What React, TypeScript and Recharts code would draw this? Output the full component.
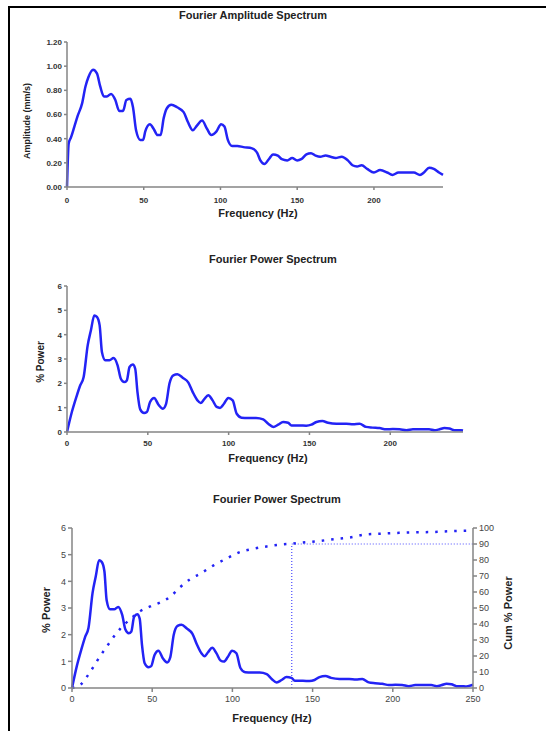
import React from 'react';
import { LineChart, Line, XAxis, YAxis, ReferenceLine } from 'recharts';

// amplitude spectrum (mm/s)
const AMP_FREQ = [0, 1.1, 2.6, 4.8, 7, 9.8, 12, 14, 17, 19.5, 21.7, 24, 26, 28.7, 31.5, 34, 36.5, 38.7, 41.3, 43, 45, 47.8, 49.6, 51, 54, 56.5, 59, 61, 63, 65, 68, 71.7, 76, 78.7, 82, 84.8, 88, 91.3, 94, 97.4, 100.4, 102.6, 104.8, 107.6, 111, 115, 120.6, 124, 126, 128.7, 131.5, 134.3, 137.4, 140, 143.5, 146.7, 150, 152.6, 156, 159, 162, 165, 168.5, 171.7, 175, 179, 183, 186, 189, 192, 195.6, 200, 204, 208.7, 212, 216, 220.6, 226, 230, 232.6, 236, 239, 242.4, 245];
const AMP_VALUES = [0, 0.36, 0.41, 0.5, 0.59, 0.69, 0.83, 0.91, 0.97, 0.94, 0.83, 0.75, 0.75, 0.77, 0.72, 0.63, 0.63, 0.72, 0.73, 0.66, 0.47, 0.39, 0.39, 0.46, 0.52, 0.48, 0.43, 0.43, 0.57, 0.65, 0.68, 0.66, 0.62, 0.54, 0.47, 0.51, 0.55, 0.48, 0.43, 0.46, 0.52, 0.5, 0.39, 0.34, 0.34, 0.33, 0.32, 0.28, 0.22, 0.19, 0.23, 0.27, 0.26, 0.23, 0.22, 0.24, 0.22, 0.23, 0.27, 0.28, 0.26, 0.25, 0.26, 0.25, 0.24, 0.25, 0.22, 0.18, 0.17, 0.18, 0.15, 0.12, 0.14, 0.12, 0.1, 0.12, 0.12, 0.12, 0.1, 0.12, 0.16, 0.15, 0.12, 0.1];

// % power
const POWER_FREQ = [0, 3, 5.8, 8.2, 10.3, 12.8, 14.8, 16.9, 18.5, 20.2, 21.6, 23.7, 26.3, 28.8, 31.3, 33.3, 35.4, 37, 38.7, 40.7, 42.2, 43.6, 45.3, 47.7, 49.4, 51.4, 53.9, 56.6, 59.3, 61.3, 63.4, 65.8, 68.3, 71.6, 75.1, 77.8, 80.7, 82.7, 84.8, 87.4, 90.1, 92.6, 94.7, 97.1, 99.8, 102.5, 105, 108, 112, 117, 121.4, 124.5, 127.6, 130.7, 133.7, 136.8, 138.9, 144, 148, 151.2, 154.3, 158, 161.5, 166.7, 172.8, 177, 181, 185, 189, 193.4, 197.5, 201.6, 205.8, 210, 214, 220, 224, 227.4, 230.5, 233.5, 236.6, 239.7, 243.8, 245, 247.5, 250];
const POWER_VALUES = [0, 0.82, 1.44, 1.92, 2.26, 3.56, 4.18, 4.79, 4.73, 4.38, 3.29, 2.95, 2.95, 3.04, 2.74, 2.19, 2.05, 2.12, 2.67, 2.77, 2.6, 1.64, 0.93, 0.78, 0.82, 1.23, 1.4, 1.12, 0.96, 1.16, 1.99, 2.33, 2.37, 2.23, 2.03, 1.64, 1.3, 1.19, 1.34, 1.51, 1.3, 1.03, 0.99, 1.16, 1.4, 1.3, 0.75, 0.59, 0.58, 0.58, 0.52, 0.34, 0.21, 0.3, 0.41, 0.38, 0.27, 0.27, 0.26, 0.3, 0.41, 0.45, 0.38, 0.34, 0.34, 0.32, 0.34, 0.21, 0.18, 0.16, 0.11, 0.12, 0.11, 0.07, 0.11, 0.11, 0.11, 0.07, 0.11, 0.16, 0.14, 0.07, 0.07, 0.06, 0.08, 0.12];

// cumulative % power
const CUM_FREQ = [0, 5.2, 9.3, 13.5, 17.6, 21.8, 26, 30, 36.3, 42.5, 48.8, 55, 61.2, 67.4, 73.6, 80, 88, 96.5, 104.8, 113, 121.4, 129.7, 137, 144, 152.5, 163, 173, 183.6, 194, 204, 214.7, 225, 235.5, 250];
const CUM_VALUES = [0, 2, 7, 13.5, 20, 26, 32, 37, 43, 48, 51, 53.5, 57, 63, 68, 71.5, 76.5, 81, 85, 87, 88.5, 89.6, 90.2, 91, 91.7, 93, 94, 96, 96.5, 97, 97.3, 97.5, 98, 98.3];

const CUT_FREQ = 137; // frequency where 90% power is reached
const CUT_PCT = 90;

const AMP_TICKS = [0, 0.2, 0.4, 0.6, 0.8, 1.0, 1.2];
const POWER_TICKS = [0, 1, 2, 3, 4, 5, 6];
const CUM_TICKS = [0, 10, 20, 30, 40, 50, 60, 70, 80, 90, 100];
const FREQ_TICKS_SHORT = [0, 50, 100, 150, 200];
const FREQ_TICKS_FULL = [0, 50, 100, 150, 200, 250];

const ampRows = AMP_FREQ.map((f, i) => ({ f, v: AMP_VALUES[i] }));
const powerRows = POWER_FREQ.map((f, i) => ({ f, v: POWER_VALUES[i] }));
const cumRows = CUM_FREQ.map((f, i) => ({ f, v: CUM_VALUES[i] }));

const FONT = '"Liberation Sans", Arial, sans-serif';
const BLUE = '#2323f5';
const AXIS = { stroke: '#858585', strokeWidth: 1.5 };
const boldTick = { fontFamily: FONT, fontSize: 8, fontWeight: 700, fill: '#333' };
const plainTick = { fontFamily: FONT, fontSize: 9, fill: '#444' };

const Text = ({ x, y, size, children, rotate = false, bold = true }: any) => (
  <div
    style={{
      position: 'absolute',
      left: x,
      top: y,
      fontFamily: FONT,
      fontSize: size,
      fontWeight: bold ? 700 : 400,
      color: '#222',
      whiteSpace: 'nowrap',
      transform: `translate(-50%, -50%)${rotate ? ' rotate(-90deg)' : ''}`,
    }}
  >
    {children}
  </div>
);

export default function App() {
  return (
    <div style={{ position: 'absolute', left: 0, top: 0, width: 546, height: 731, background: '#fff', overflow: 'hidden' }}>
      {/* page frame */}
      <div style={{ position: 'absolute', left: 8, top: 6, width: 538, height: 2, background: '#000' }} />
      <div style={{ position: 'absolute', left: 8, top: 6, width: 2, height: 725, background: '#000' }} />

      {/* amplitude spectrum */}
      <div style={{ position: 'absolute', left: 0, top: 0 }}>
        <LineChart width={546} height={230} data={ampRows} margin={{ top: 42, right: 103, left: 0, bottom: 0 }}>
          <XAxis dataKey="f" type="number" domain={[0, 245]} ticks={FREQ_TICKS_SHORT} axisLine={AXIS} tickLine={AXIS} tickSize={3} tickMargin={7} tick={boldTick} height={43} />
          <YAxis type="number" domain={[0, 1.2]} ticks={AMP_TICKS} tickFormatter={(v: number) => v.toFixed(2)} axisLine={AXIS} tickLine={AXIS} tickSize={3} tick={boldTick} width={67} />
          <Line dataKey="v" type="monotone" stroke={BLUE} strokeWidth={2.5} dot={false} isAnimationActive={false} />
        </LineChart>
      </div>
      <Text x={253} y={15} size={11}>Fourier Amplitude Spectrum</Text>
      <Text x={258} y={213} size={11}>Frequency (Hz)</Text>
      <Text x={27} y={121} size={9} rotate>Amplitude (mm/s)</Text>

      {/* power spectrum */}
      <div style={{ position: 'absolute', left: 0, top: 245 }}>
        <LineChart width={546} height={230} data={powerRows.filter((r) => r.f <= 245)} margin={{ top: 41, right: 83, left: 0, bottom: 0 }}>
          <XAxis dataKey="f" type="number" domain={[0, 245]} ticks={FREQ_TICKS_SHORT} axisLine={AXIS} tickLine={AXIS} tickSize={3} tickMargin={5} tick={boldTick} height={43} />
          <YAxis type="number" domain={[0, 6]} ticks={POWER_TICKS} axisLine={AXIS} tickLine={AXIS} tickSize={3} tick={boldTick} width={67} />
          <Line dataKey="v" type="monotone" stroke={BLUE} strokeWidth={2.5} dot={false} isAnimationActive={false} />
        </LineChart>
      </div>
      <Text x={273} y={259} size={11}>Fourier Power Spectrum</Text>
      <Text x={268} y={458} size={11}>Frequency (Hz)</Text>
      <Text x={40} y={362} size={10} rotate>% Power</Text>

      {/* power spectrum with cumulative power */}
      <div style={{ position: 'absolute', left: 0, top: 480 }}>
        <LineChart width={546} height={251} margin={{ top: 48, right: 0, left: 0, bottom: 0 }}>
          <XAxis dataKey="f" type="number" domain={[0, 250]} ticks={FREQ_TICKS_FULL} axisLine={AXIS} tickLine={AXIS} tickSize={4} tickMargin={4} tick={plainTick} height={43} allowDuplicatedCategory={false} />
          <YAxis yAxisId="left" type="number" domain={[0, 6]} ticks={POWER_TICKS} axisLine={AXIS} tickLine={AXIS} tickSize={4} tick={plainTick} width={72} />
          <YAxis yAxisId="right" orientation="right" type="number" domain={[0, 100]} ticks={CUM_TICKS} axisLine={AXIS} tickLine={AXIS} tickSize={4} tick={plainTick} width={73} />
          <ReferenceLine yAxisId="right" segment={[{ x: CUT_FREQ, y: 0 }, { x: CUT_FREQ, y: CUT_PCT }]} stroke="#4b4bff" strokeWidth={1.2} strokeDasharray="1 2" />
          <ReferenceLine yAxisId="right" segment={[{ x: CUT_FREQ, y: CUT_PCT }, { x: 250, y: CUT_PCT }]} stroke="#4b4bff" strokeWidth={1.2} strokeDasharray="1 2" />
          <Line yAxisId="left" data={powerRows} dataKey="v" type="monotone" stroke={BLUE} strokeWidth={2.5} dot={false} isAnimationActive={false} />
          <Line yAxisId="right" data={cumRows} dataKey="v" type="monotone" stroke={BLUE} strokeWidth={2.5} strokeDasharray="2.5 7" dot={false} isAnimationActive={false} />
        </LineChart>
      </div>
      <Text x={277} y={499} size={11}>Fourier Power Spectrum</Text>
      <Text x={272} y={718} size={11}>Frequency (Hz)</Text>
      <Text x={46} y={610} size={11} rotate>% Power</Text>
      <Text x={508} y={613} size={11} rotate>Cum % Power</Text>
    </div>
  );
}
